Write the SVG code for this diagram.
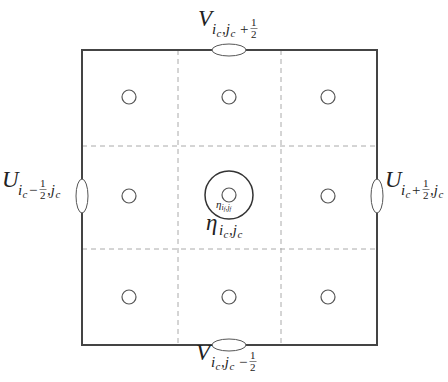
<svg xmlns="http://www.w3.org/2000/svg" width="448" height="382" viewBox="0 0 448 382">
<style>
.m{font-family:"Liberation Serif","DejaVu Serif",serif;font-style:italic;fill:#222}
.b{font-size:23px}.s{font-size:15px}.ss{font-size:11px}
.r{font-family:"Liberation Serif","DejaVu Serif",serif;fill:#222}
.cell{fill:none;stroke:#555;stroke-width:1.2}
.face{fill:#fff;stroke:#555;stroke-width:1}
.fb{stroke:#333;stroke-width:0.6}
</style>
<rect width="448" height="382" fill="#fff"/>
<g id="grid">
<g stroke="#aaa" stroke-width="1" stroke-dasharray="5,4" fill="none">
<line x1="178" y1="50" x2="178" y2="345"/>
<line x1="281" y1="50" x2="281" y2="345"/>
<line x1="82" y1="146" x2="377" y2="146"/>
<line x1="82" y1="249" x2="377" y2="249"/>
</g>
<rect x="82" y="50" width="295" height="295" fill="none" stroke="#444" stroke-width="2"/>
</g>
<g id="cells">
<circle class="cell" cx="129" cy="97" r="7"/>
<circle class="cell" cx="229" cy="97" r="7"/>
<circle class="cell" cx="328" cy="97" r="7"/>
<circle class="cell" cx="129" cy="196" r="7"/>
<circle class="cell" cx="328" cy="196" r="7"/>
<circle class="cell" cx="129" cy="297" r="7"/>
<circle class="cell" cx="229" cy="297" r="7"/>
<circle class="cell" cx="328" cy="297" r="7"/>
</g>
<g id="center">
<circle cx="229" cy="195" r="24" fill="none" stroke="#333" stroke-width="1.5"/>
<circle class="cell" cx="229" cy="195" r="7"/>
<text class="m" x="216" y="208" font-size="11">η<tspan font-size="8" dy="1.5">i</tspan><tspan font-size="6" dy="1">f</tspan><tspan font-size="8" dy="-1">,j</tspan><tspan font-size="6" dy="1">f</tspan></text>
<text class="m b" x="206" y="230">η</text>
<text class="m s" x="219" y="235">i</text>
<text class="m ss" x="223.5" y="238">c</text>
<text class="m s" x="229" y="235">,j</text>
<text class="m ss" x="237.5" y="238">c</text>
</g>
<g id="top">
<ellipse class="face" cx="229" cy="50" rx="17" ry="6"/>
<text class="m b" x="198" y="26">V</text>
<text class="m s" x="212" y="34">i</text>
<text class="m ss" x="216.5" y="37">c</text>
<text class="m s" x="222" y="34">,j</text>
<text class="m ss" x="230.5" y="37">c</text>
<text class="r s" x="240" y="34">+</text>
<text class="r ss" x="251" y="26">1</text>
<line class="fb" x1="250.5" y1="28.5" x2="257.5" y2="28.5"/>
<text class="r ss" x="251" y="38">2</text>
</g>
<g id="bottom">
<ellipse class="face" cx="229" cy="345" rx="17" ry="6"/>
<text class="m b" x="196" y="360">V</text>
<text class="m s" x="211" y="367">i</text>
<text class="m ss" x="215.5" y="370">c</text>
<text class="m s" x="221" y="367">,j</text>
<text class="m ss" x="229.5" y="370">c</text>
<text class="r s" x="239" y="367">−</text>
<text class="r ss" x="250" y="359">1</text>
<line class="fb" x1="249.5" y1="361.5" x2="256.5" y2="361.5"/>
<text class="r ss" x="250" y="371">2</text>
</g>
<g id="left">
<ellipse class="face" cx="82" cy="196" rx="6" ry="17"/>
<text class="m b" x="2" y="187">U</text>
<text class="m s" x="18" y="195">i</text>
<text class="m ss" x="22.5" y="198">c</text>
<text class="r s" x="29" y="195">−</text>
<text class="r ss" x="40" y="187">1</text>
<line class="fb" x1="39.5" y1="189.5" x2="46.5" y2="189.5"/>
<text class="r ss" x="40" y="199">2</text>
<text class="m s" x="47" y="195">,j</text>
<text class="m ss" x="55.5" y="198">c</text>
</g>
<g id="right">
<ellipse class="face" cx="377" cy="196" rx="6" ry="17"/>
<text class="m b" x="385" y="187">U</text>
<text class="m s" x="401" y="195">i</text>
<text class="m ss" x="405.5" y="198">c</text>
<text class="r s" x="412" y="195">+</text>
<text class="r ss" x="423" y="187">1</text>
<line class="fb" x1="422.5" y1="189.5" x2="429.5" y2="189.5"/>
<text class="r ss" x="423" y="199">2</text>
<text class="m s" x="430" y="195">,j</text>
<text class="m ss" x="438.5" y="198">c</text>
</g>
</svg>
